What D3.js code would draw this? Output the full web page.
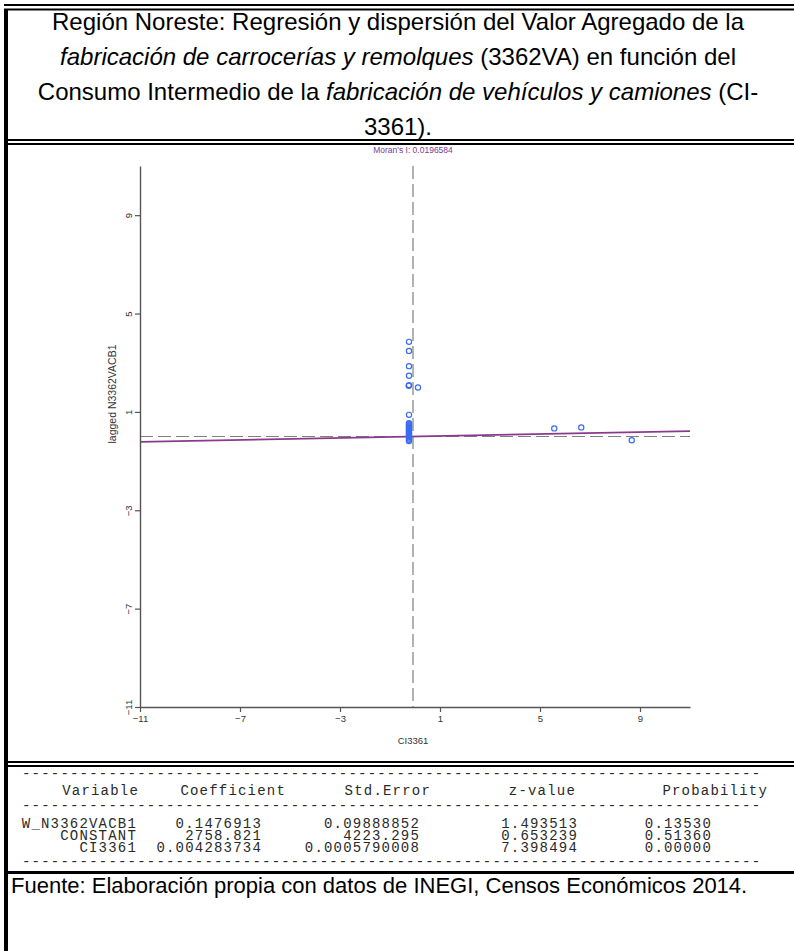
<!DOCTYPE html>
<html>
<head>
<meta charset="utf-8">
<script src="https://cdn.jsdelivr.net/npm/d3@7"></script>
<style>
  html, body { margin: 0; padding: 0; background: #fff; }
  svg { display: block; }
</style>
</head>
<body>
<svg id="chart" width="794" height="951"></svg>
<script>
"use strict";

// scatter: standardized CI3361 (x) vs lagged N3362VACB1 (y)
var pointX = [-0.24, -0.24, -0.24, -0.24, -0.24, -0.25, 0.12, -0.24,
              -0.24, -0.24, -0.24, -0.24, -0.24, -0.24, -0.24, -0.24, -0.24,
              -0.24, -0.24, -0.24, -0.24, -0.24, -0.24, -0.24, -0.24, -0.24,
              5.57, 6.65, 8.67];
var pointY = [3.85, 3.48, 2.86, 2.47, 2.09, 2.06, 1.99, 0.88,
              0.54, 0.50, 0.46, 0.42, 0.38, 0.34, 0.30, 0.26, 0.22,
              0.18, 0.14, 0.10, 0.06, 0.02, -0.03, -0.08, -0.13, -0.18,
              0.33, 0.37, -0.15];

var moranI = 0.0196584,
    meanX = -0.08,
    meanY = 0;

var xTicks = [-11, -7, -3, 1, 5, 9],
    yTicks = [-11, -7, -3, 1, 5, 9];

var titleLines = [
  [["Región Noreste: Regresión y dispersión del Valor Agregado de la", false]],
  [["fabricación de carrocerías y remolques", true], [" (3362VA) en función del", false]],
  [["Consumo Intermedio de la ", false], ["fabricación de vehículos y camiones", true], [" (CI-", false]],
  [["3361).", false]]
];

var tableHeaders = ["Variable", "Coefficient", "Std.Error", "z-value", "Probability"],
    tableVars    = ["W_N3362VACB1", "CONSTANT", "CI3361"],
    tableCoef    = ["0.1476913", "2758.821", "0.004283734"],
    tableStdErr  = ["0.09888852", "4223.295", "0.0005790008"],
    tableZ       = ["1.493513", "0.653239", "7.398494"],
    tableProb    = ["0.13530", "0.51360", "0.00000"];

var footerText = "Fuente: Elaboración propia con datos de INEGI, Censos Económicos 2014.";

var svg = d3.select("#chart"),
    W = 794, H = 951,
    sansFont = "'Liberation Sans', Arial, sans-serif",
    monoFont = "'Liberation Mono', 'Courier New', monospace";

// ---- frame -------------------------------------------------------------
function hline(y, x1, thick) {
  svg.append("rect").attr("x", x1).attr("y", y).attr("width", W - x1)
     .attr("height", thick).attr("fill", "#000");
}
hline(4, 4, 2);
hline(8.5, 8, 2);
svg.append("rect").attr("x", 4).attr("y", 8.5).attr("width", 4)
   .attr("height", H - 8.5).attr("fill", "#000");
hline(139, 8, 2);    // title / chart
hline(143, 8, 2);
hline(761, 8, 2);    // chart / table
hline(765, 8, 2);
hline(871, 8, 3);    // table / footer

// ---- title -------------------------------------------------------------
var title = svg.append("text")
    .attr("text-anchor", "middle")
    .style("font-family", sansFont)
    .style("font-size", "24px")
    .attr("fill", "#000");

titleLines.forEach(function(parts, i) {
  parts.forEach(function(p, j) {
    var t = title.append("tspan").text(p[0])
        .style("font-style", p[1] ? "italic" : "normal");
    if (j === 0) t.attr("x", 398).attr("y", 30 + i * 35);
  });
});

// ---- scatter plot ------------------------------------------------------
var x = d3.scaleLinear().domain([-11, 11]).range([140, 690]),
    y = d3.scaleLinear().domain([-11, 11]).range([707, 166]);

var plot = svg.append("g");

// mean lines
plot.append("line")
    .attr("x1", x(meanX)).attr("x2", x(meanX))
    .attr("y1", y(11)).attr("y2", y(-11))
    .attr("stroke", "#808080").attr("stroke-width", 1.2)
    .attr("stroke-dasharray", "13,5");
plot.append("line")
    .attr("x1", x(-11)).attr("x2", x(11))
    .attr("y1", y(meanY)).attr("y2", y(meanY))
    .attr("stroke", "#808080").attr("stroke-width", 1.2)
    .attr("stroke-dasharray", "13,5");

// regression line, slope = Moran's I
plot.append("line")
    .attr("x1", x(-11)).attr("y1", y(meanY + moranI * (-11 - meanX)))
    .attr("x2", x(11)).attr("y2", y(meanY + moranI * (11 - meanX)))
    .attr("stroke", "#8a3a8e").attr("stroke-width", 1.7);

plot.append("g").selectAll("circle")
    .data(pointX)
    .enter().append("circle")
    .attr("cx", function(d) { return x(d); })
    .attr("cy", function(d, i) { return y(pointY[i]); })
    .attr("r", 2.6)
    .attr("fill", "none")
    .attr("stroke", "#3a6cf0")
    .attr("stroke-width", 1.2);

// axes
var xAxis = svg.append("g")
    .attr("transform", "translate(0," + y(-11) + ")")
    .call(d3.axisBottom(x).tickValues(xTicks).tickSize(5).tickSizeOuter(0));
var yAxis = svg.append("g")
    .attr("transform", "translate(" + x(-11) + ",0)")
    .call(d3.axisLeft(y).tickValues(yTicks).tickSize(5).tickSizeOuter(0));

[xAxis, yAxis].forEach(function(a) {
  a.select(".domain").attr("stroke", "#555").attr("stroke-width", 1.4);
  a.selectAll(".tick line").attr("stroke", "#555").attr("stroke-width", 1.2);
  a.selectAll(".tick text")
   .style("font-family", sansFont).style("font-size", "9.5px").attr("fill", "#333");
});
xAxis.selectAll(".tick text").attr("y", 8).attr("dy", "0.71em");
yAxis.selectAll(".tick text")
    .attr("transform", "rotate(-90)")
    .attr("x", 0).attr("y", -8).attr("dy", 0)
    .attr("text-anchor", "middle");

svg.append("text")
    .attr("x", x(meanX)).attr("y", 744)
    .attr("text-anchor", "middle")
    .style("font-family", sansFont).style("font-size", "9.5px")
    .attr("fill", "#333")
    .text("CI3361");

svg.append("text")
    .attr("transform", "translate(116,394) rotate(-90)")
    .attr("text-anchor", "middle")
    .style("font-family", sansFont).style("font-size", "10.5px")
    .attr("fill", "#333")
    .text("lagged N3362VACB1");

svg.append("text")
    .attr("x", x(meanX)).attr("y", 153)
    .attr("text-anchor", "middle")
    .style("font-family", sansFont).style("font-size", "8.5px")
    .attr("fill", "#7d3a95")
    .text("Moran's I: " + moranI);

// ---- regression table --------------------------------------------------
var tbl = svg.append("g")
    .style("font-family", monoFont)
    .style("font-size", "14px")
    .style("letter-spacing", "1.2px")
    .attr("fill", "#2a2a2a");

var dashes = new Array(78).join("-");
[778, 810, 866].forEach(function(yy) {
  tbl.append("text").attr("x", 22).attr("y", yy).text(dashes);
});

var headerEnds = [139, 286, 431, 576, 768],
    valueEnds  = [137, 262, 420, 578, 712],
    columns = [tableVars, tableCoef, tableStdErr, tableZ, tableProb];

tbl.selectAll("text.hdr")
    .data(tableHeaders)
    .enter().append("text")
    .attr("class", "hdr")
    .attr("text-anchor", "end")
    .attr("x", function(d, i) { return headerEnds[i]; })
    .attr("y", 795)
    .text(function(d) { return d; });

columns.forEach(function(col, c) {
  tbl.selectAll("text.c" + c)
      .data(col)
      .enter().append("text")
      .attr("class", "c" + c)
      .attr("text-anchor", "end")
      .attr("x", valueEnds[c])
      .attr("y", function(d, r) { return 828 + r * 12; })
      .text(function(d) { return d; });
});

// ---- footer ------------------------------------------------------------
svg.append("text")
    .attr("x", 11).attr("y", 893)
    .style("font-family", sansFont).style("font-size", "22px")
    .attr("fill", "#000")
    .text(footerText);
</script>
</body>
</html>
